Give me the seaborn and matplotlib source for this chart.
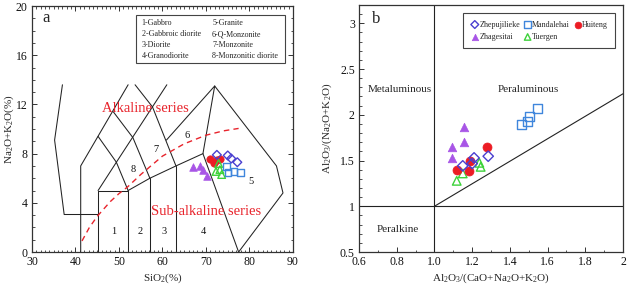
import numpy as np
import pandas as pd
import matplotlib
matplotlib.use("Agg")
import matplotlib.pyplot as plt
from matplotlib.patches import Rectangle
from matplotlib.ticker import MultipleLocator, FixedLocator
import seaborn as sns

sns.set_style("ticks")
plt.rcParams['font.family'] = ['Liberation Serif', 'DejaVu Serif']
plt.rcParams['mathtext.fontset'] = 'custom'
plt.rcParams['mathtext.rm'] = 'Liberation Serif'
plt.rcParams['mathtext.it'] = 'Liberation Serif:italic'

# ---------------- data ----------------
groups = ["Zhepujilieke", "Mandalehai", "Huiteng", "Zhagesitai", "Tuergen"]
colors = {"Zhepujilieke": "#4a3fd0", "Mandalehai": "#3f86dc", "Huiteng": "#ec1c24",
          "Zhagesitai": "#a855e6", "Tuergen": "#3dd23a"}
markers = {"Zhepujilieke": "D", "Mandalehai": "s", "Huiteng": "o",
           "Zhagesitai": "^", "Tuergen": "^"}
filled = {"Zhepujilieke": False, "Mandalehai": False, "Huiteng": True,
          "Zhagesitai": True, "Tuergen": False}

# TAS (SiO2, Na2O+K2O)
tas_sio2 = {"Zhepujilieke": [72.5, 75.0, 75.8, 77.2],
            "Mandalehai": [74.7, 75.1, 76.4, 77.9],
            "Huiteng": [70.9, 71.9, 72.5, 73.3],
            "Zhagesitai": [66.9, 68.6, 69.2, 70.2],
            "Tuergen": [72.3, 72.9, 73.2, 73.6]}
tas_alk = {"Zhepujilieke": [7.9, 7.85, 7.6, 7.3],
           "Mandalehai": [6.95, 6.45, 6.55, 6.45],
           "Huiteng": [7.6, 7.25, 7.45, 7.6],
           "Zhagesitai": [6.9, 7.0, 6.7, 6.15],
           "Tuergen": [6.55, 7.2, 6.7, 6.3]}

# A/CNK vs A/NK
acnk = {"Zhepujilieke": [1.15, 1.21, 1.20, 1.285],
        "Mandalehai": [1.46, 1.495, 1.503, 1.545],
        "Huiteng": [1.12, 1.183, 1.188, 1.277],
        "Zhagesitai": [1.091, 1.091, 1.158, 1.158],
        "Tuergen": [1.118, 1.15, 1.238, 1.245]}
anK = {"Zhepujilieke": [1.442, 1.529, 1.467, 1.547],
       "Mandalehai": [1.897, 1.923, 1.978, 2.069],
       "Huiteng": [1.40, 1.384, 1.497, 1.643],
       "Zhagesitai": [1.523, 1.643, 1.704, 1.868],
       "Tuergen": [1.278, 1.359, 1.475, 1.431]}

# TAS field boundaries (polylines)
tas_lines = [
    [(37.0, 13.6), (35.2, 9.1), (37.4, 3.05), (45.2, 3.05)],
    [(41.2, 0), (41.2, 7.0), (52.1, 13.6)],
    [(45.2, 0), (45.2, 5.0), (52.1, 5.0), (52.1, 0)],
    [(45.2, 5.0), (49.4, 7.3), (52.1, 5.0)],
    [(45.2, 9.4), (49.4, 7.3)],
    [(48.7, 11.4), (53.2, 9.3), (57.1, 6.0)],
    [(49.4, 7.3), (61.0, 13.6)],
    [(53.7, 13.6), (57.7, 11.8), (63.1, 7.0)],
    [(52.1, 5.0), (57.1, 6.0), (63.1, 7.0), (69.3, 8.0), (77.5, 0)],
    [(57.1, 0), (57.1, 6.0)],
    [(63.1, 0), (63.1, 7.0)],
    [(60.9, 9.1), (72.0, 13.5), (86.2, 7.0), (87.7, 4.8), (77.5, 0)],
    [(69.3, 8.0), (72.0, 13.5)],
]
# Alkaline / sub-alkaline divide
curve_x = [41.5, 43.2, 45.0, 48.0, 50.0, 52.0, 55.0, 60.0, 65.0, 70.0, 74.0, 77.5]
curve_y = [0.9, 2.0, 2.9, 4.1, 4.75, 5.3, 6.3, 7.8, 8.8, 9.5, 9.85, 10.05]

field_labels = ["1", "2", "3", "4", "5", "6", "7", "8"]
field_x = [48.8, 54.8, 60.3, 69.5, 80.4, 65.7, 58.4, 53.3]
field_y = [1.65, 1.65, 1.65, 1.65, 5.7, 9.5, 8.3, 6.75]
legend_a = ["1-Gabbro", "2-Gabbroic diorite", "3-Diorite", "4-Granodiorite",
            "5-Granite", "6-Q-Monzonite", "7-Monzonite", "8-Monzonitic diorite"]

# A/CNK diagram divides
div_v = [(1.0, 0.5), (1.0, 3.2)]
div_h = [(0.6, 1.0), (2.0, 1.0)]
div_d = [(1.0, 1.0), (2.0, 2.23)]

# ---------------- figure ----------------
fig = plt.figure(figsize=(6.27, 2.89), dpi=100)
ax1 = fig.add_axes([0.0510, 0.128, 0.4163, 0.851])
ax2 = fig.add_axes([0.5726, 0.128, 0.4211, 0.8547])

lc = "#222222"
for seg in tas_lines:
    xs, ys = zip(*seg)
    sns.lineplot(x=list(xs), y=list(ys), sort=False, estimator=None, color=lc,
                 lw=0.75, ax=ax1)
sns.lineplot(x=curve_x, y=curve_y, sort=False, estimator=None, color="#e8242c",
             lw=1.0, ax=ax1, linestyle=(0, (4, 3)))

def draw_group(ax, xs, ys, g, s):
    c = colors[g]
    if filled[g]:
        sns.scatterplot(x=xs, y=ys, marker=markers[g], s=s, color=c,
                        edgecolor=c, linewidth=0.5, ax=ax, label=g, zorder=5)
    else:
        sns.scatterplot(x=xs, y=ys, marker=markers[g], s=s, facecolor="none",
                        edgecolor=c, linewidth=1.0, ax=ax, label=g, zorder=5)

sizes_a = {"D": 20, "s": 22, "o": 28, "^": 30}
sizes_b = {"D": 28, "s": 40, "o": 42, "^": 38}
for g in ["Zhagesitai", "Huiteng", "Tuergen", "Mandalehai", "Zhepujilieke"]:
    draw_group(ax1, tas_sio2[g], tas_alk[g], g, sizes_a[markers[g]])
ax1.get_legend().remove()

for lab, x, y in zip(field_labels, field_x, field_y):
    ax1.text(x, y, lab, fontsize=7.5, ha="center", va="center", color="#111")
ax1.text(56.1, 11.7, "Alkaline series", color="#e8242c", fontsize=10.5,
         ha="center", va="center")
ax1.text(70.1, 3.3, "Sub-alkaline series", color="#e8242c", fontsize=10.5,
         ha="center", va="center")
ax1.text(32.3, 19.0, "a", fontsize=12, ha="left", va="center")

ax1.add_patch(Rectangle((53.9, 15.34), 34.3, 3.93, fill=False, edgecolor="#444",
                        lw=0.8, zorder=3))
rows_y = [18.59, 17.7, 16.8, 15.9]
for i, t in enumerate(legend_a):
    x = 55.2 if i < 4 else 71.4
    ax1.text(x, rows_y[i % 4], t, fontsize=5.8, ha="left", va="center")

ax1.set_xlim(30, 90)
ax1.set_ylim(0, 20)
ax1.xaxis.set_major_locator(MultipleLocator(10))
ax1.xaxis.set_minor_locator(MultipleLocator(1))
ax1.yaxis.set_major_locator(MultipleLocator(4))
ax1.yaxis.set_minor_locator(MultipleLocator(1))
ax1.tick_params(which="both", direction="in", top=True, right=True,
                labelsize=8.5, colors="#333", labelcolor="#111", pad=3)
ax1.tick_params(which="major", length=3.5, width=0.7)
ax1.tick_params(which="minor", length=1.8, width=0.6)
ax1.set_xlabel(r"SiO$_2$(%)", fontsize=8)
ax1.set_ylabel(r"Na$_2$O+K$_2$O(%)", fontsize=8)
ax1.yaxis.set_label_coords(-0.06, 0.5)
ax1.xaxis.set_label_coords(0.5, -0.08)

# ---- panel b ----
for seg in (div_v, div_h, div_d):
    xs, ys = zip(*seg)
    sns.lineplot(x=list(xs), y=list(ys), sort=False, estimator=None, color=lc,
                 lw=0.8, ax=ax2)
order = ["Zhepujilieke", "Zhagesitai", "Mandalehai", "Tuergen", "Huiteng"]
for g in ["Zhagesitai", "Tuergen", "Huiteng", "Zhepujilieke", "Mandalehai"]:
    draw_group(ax2, acnk[g], anK[g], g, sizes_b[markers[g]])
handles, labels = ax2.get_legend_handles_labels()
hmap = dict(zip(labels, handles))
leg = ax2.legend([hmap[g] for g in order], order, ncol=3, loc="upper right",
                 bbox_to_anchor=(0.97, 0.966), borderaxespad=0, fontsize=5.8,
                 handletextpad=0.0, columnspacing=0.4, labelspacing=0.55,
                 markerscale=0.75, fancybox=False, edgecolor="#444",
                 borderpad=0.9, handlelength=1.1, framealpha=1)
leg.get_frame().set_linewidth(0.8)

ax2.text(0.817, 2.276, "Metaluminous", fontsize=8, ha="center", va="center")
ax2.text(1.498, 2.276, "Peraluminous", fontsize=8, ha="center", va="center")
ax2.text(0.808, 0.748, "Peralkine", fontsize=8, ha="center", va="center")
ax2.text(0.67, 3.05, "b", fontsize=12, ha="left", va="center")

ax2.set_xlim(0.6, 2.0)
ax2.set_ylim(0.5, 3.2)
ax2.xaxis.set_major_locator(FixedLocator([0.6, 0.8, 1.0, 1.2, 1.4, 1.6, 1.8, 2.0]))
ax2.set_xticklabels(["0.6", "0.8", "1.0", "1.2", "1.4", "1.6", "1.8", "2"])
ax2.xaxis.set_minor_locator(MultipleLocator(0.1))
ax2.yaxis.set_major_locator(FixedLocator([0.5, 1, 1.5, 2, 2.5, 3]))
ax2.set_yticklabels(["0.5", "1", "1.5", "2", "2.5", "3"])
ax2.yaxis.set_minor_locator(MultipleLocator(0.1))
ax2.tick_params(which="both", direction="in", labelsize=8.5, colors="#333",
                labelcolor="#111", pad=3)
ax2.tick_params(which="major", length=3.5, width=0.7)
ax2.tick_params(which="minor", length=1.8, width=0.6)
ax2.set_xlabel(r"Al$_2$O$_3$/(CaO+Na$_2$O+K$_2$O)", fontsize=8)
ax2.set_ylabel(r"Al$_2$O$_3$/(Na$_2$O+K$_2$O)", fontsize=8)
ax2.yaxis.set_label_coords(-0.095, 0.5)
ax2.xaxis.set_label_coords(0.5, -0.08)

for ax in (ax1, ax2):
    for sp in ax.spines.values():
        sp.set_visible(True)
        sp.set_linewidth(0.9)
        sp.set_color("#333")

fig.savefig("out.png", dpi=100)
